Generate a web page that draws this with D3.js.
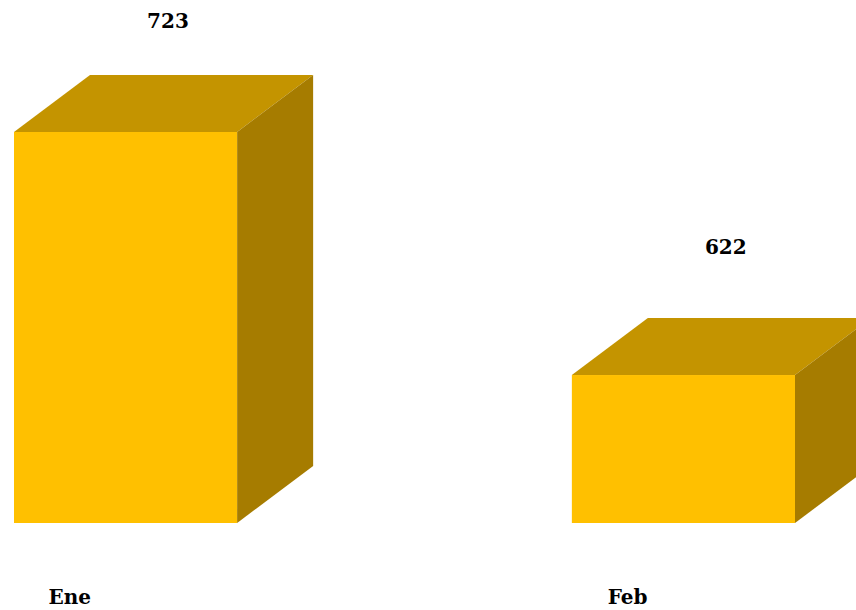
<!DOCTYPE html>
<html>
<head>
<meta charset="utf-8">
<script src="https://cdn.jsdelivr.net/npm/d3@7"></script>
<style>
  body { margin: 0; background: #fff; }
  svg { display: block; }
</style>
</head>
<body>
<div id="chart"></div>
<script>
let months = ["Ene", "Feb"]
let totals = [723, 622]

let width = 856
let height = 610
let depthX = 76
let depthY = 57

let svg = d3.select("#chart")
    .append("svg")
    .attr("width", width)
    .attr("height", height)

let x = d3.scaleBand()
    .domain(months)
    .range([14, 795])
    .paddingInner(0.6)
    .paddingOuter(0)

// value axis does not start at zero in the original
let y = d3.scaleLinear()
    .domain([560.5, 723])
    .range([523, 132])

// the value labels sit a bit off the bar tops, own scale for them
let yLabel = d3.scaleLinear()
    .domain([560.5, 723])
    .range([391.6, 28])

let bw = x.bandwidth()
let bars = svg.selectAll("g.bar")
    .data(months.map((m, i) => ({ month: m, value: totals[i] })))
    .enter()
    .append("g")
    .attr("class", "bar")

// front
bars.append("rect")
    .attr("x", d => x(d.month))
    .attr("y", d => y(d.value))
    .attr("width", bw)
    .attr("height", d => y.range()[0] - y(d.value))
    .attr("fill", "#FFC000")

// top
bars.append("path")
    .attr("d", d => {
        let x0 = x(d.month), y0 = y(d.value)
        return "M" + x0 + "," + y0 +
            "L" + (x0 + depthX) + "," + (y0 - depthY) +
            "L" + (x0 + bw + depthX) + "," + (y0 - depthY) +
            "L" + (x0 + bw) + "," + y0 + "Z"
    })
    .attr("fill", "#C49400")

// side
bars.append("path")
    .attr("d", d => {
        let x1 = x(d.month) + bw, y0 = y(d.value), yb = y.range()[0]
        return "M" + x1 + "," + y0 +
            "L" + (x1 + depthX) + "," + (y0 - depthY) +
            "L" + (x1 + depthX) + "," + (yb - depthY) +
            "L" + x1 + "," + yb + "Z"
    })
    .attr("fill", "#A67C00")

bars.append("text")
    .attr("x", d => x(d.month) + bw * 0.69)
    .attr("y", d => yLabel(d.value))
    .attr("text-anchor", "middle")
    .attr("font-family", "DejaVu Serif")
    .attr("font-weight", "bold")
    .attr("font-size", 20)
    .attr("fill", "#000")
    .text(d => d.value)

bars.append("text")
    .attr("x", d => x(d.month) + bw / 4)
    .attr("y", 604)
    .attr("text-anchor", "middle")
    .attr("font-family", "DejaVu Serif")
    .attr("font-weight", "bold")
    .attr("font-size", 20)
    .attr("fill", "#000")
    .text(d => d.month)
</script>
</body>
</html>
